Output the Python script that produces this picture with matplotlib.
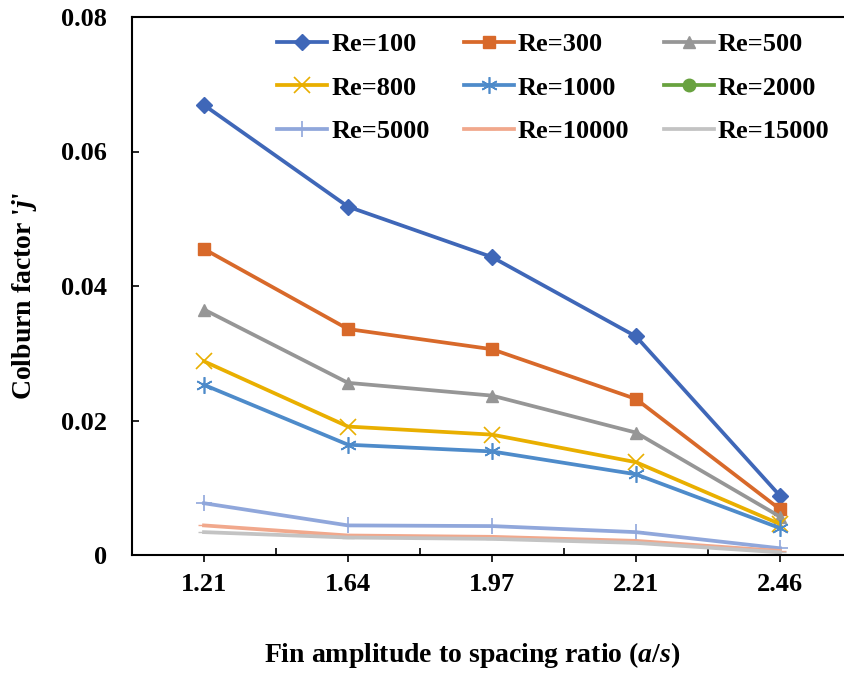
import numpy as np
import matplotlib
matplotlib.use("Agg")
import matplotlib.pyplot as plt
from matplotlib.ticker import FixedLocator

plt.rcParams['font.family'] = ['Liberation Serif', 'DejaVu Serif']
plt.rcParams['font.weight'] = 'bold'
plt.rcParams['mathtext.fontset'] = 'custom'
plt.rcParams['mathtext.it'] = 'Liberation Serif:bold:italic'
plt.rcParams['mathtext.rm'] = 'Liberation Serif:bold'

# data
ratios = ['1.21', '1.64', '1.97', '2.21', '2.46']
re100 = [0.0669, 0.0518, 0.0443, 0.0325, 0.0088]
re300 = [0.0455, 0.0336, 0.0306, 0.0232, 0.0068]
re500 = [0.0365, 0.0256, 0.0237, 0.0182, 0.0057]
re800 = [0.0288, 0.0191, 0.0179, 0.0138, 0.0046]
re1000 = [0.0253, 0.0164, 0.0154, 0.0120, 0.0040]
re2000 = [np.nan, np.nan, np.nan, np.nan, np.nan]  # not visible in the plot
re5000 = [0.0077, 0.0044, 0.0043, 0.0034, 0.0010]
re10000 = [0.0044, 0.0029, 0.0027, 0.0021, 0.0006]
re15000 = [0.0034, 0.0026, 0.0024, 0.0018, 0.0004]

labels = ['Re=100', 'Re=300', 'Re=500', 'Re=800', 'Re=1000', 'Re=2000',
          'Re=5000', 'Re=10000', 'Re=15000']
series = [re100, re300, re500, re800, re1000, re2000, re5000, re10000, re15000]

colors = ['#3F67B8', '#D8692A', '#969696', '#E9AF00', '#4E8BCA', '#68A23F',
          '#90A7DB', '#F1A88C', '#C3C3C3']
markers = ['D', 's', '^', 'x', (6, 2, 0), 'o', '+', '_', '_']
msizes = [8, 9, 9, 11, 12, 9, 12, 8, 8]

fig = plt.figure(figsize=(8.44, 6.77), dpi=100)
ax = fig.add_axes([132/844, 122/677, 720/844, 538/677])

x = np.arange(len(ratios))
lines = []
for vals, lab, c, m, ms in zip(series, labels, colors, markers, msizes):
    ln, = ax.plot(x, vals, color=c, lw=2.7, marker=m, markersize=ms,
                  markeredgewidth=1.2 if m in ('x', '+', (6, 2, 0)) else 1.0,
                  markeredgecolor=c, markerfacecolor=c, label=lab)
    lines.append(ln)

ax.set_xlim(-0.5, 4.5)
ax.set_ylim(0, 0.08)
ax.set_xticks(x)
ax.set_xticklabels(ratios)
ax.xaxis.set_minor_locator(FixedLocator(np.arange(0.5, 4.0, 1.0)))
ax.set_yticks([0, 0.02, 0.04, 0.06, 0.08])
ax.set_yticklabels(['0', '0.02', '0.04', '0.06', '0.08'])

ax.tick_params(axis='x', which='major', direction='out', length=5, width=1.2,
               labelsize=19, pad=8)
ax.tick_params(axis='x', which='minor', direction='in', length=5, width=1.2)
ax.tick_params(axis='y', which='major', direction='in', length=5, width=1.2,
               labelsize=19, pad=18)

for s in ['left', 'bottom', 'top']:
    ax.spines[s].set_linewidth(1.5)
ax.spines['right'].set_visible(False)

fig.text(472/844, 1 - 655/677, 'Fin amplitude to spacing ratio ($a/s$)',
         ha='center', va='center', fontsize=20, fontweight='bold')
fig.text(25/844, 1 - 296/677, "Colburn factor '$j$'", ha='center', va='center',
         rotation=90, fontsize=20, fontweight='bold')

# legend is filled column by column, so reorder to read row by row
order = [0, 3, 6, 1, 4, 7, 2, 5, 8]
ax.legend([lines[i] for i in order], [labels[i] for i in order],
          ncol=3, loc='upper left', bbox_to_anchor=(277/844, 1 - 33/677),
          bbox_transform=fig.transFigure, frameon=False, fontsize=19,
          handlelength=1.9, handletextpad=0.15, columnspacing=1.3,
          labelspacing=0.75, borderpad=0, borderaxespad=0)

fig.savefig('out.png', dpi=100)
